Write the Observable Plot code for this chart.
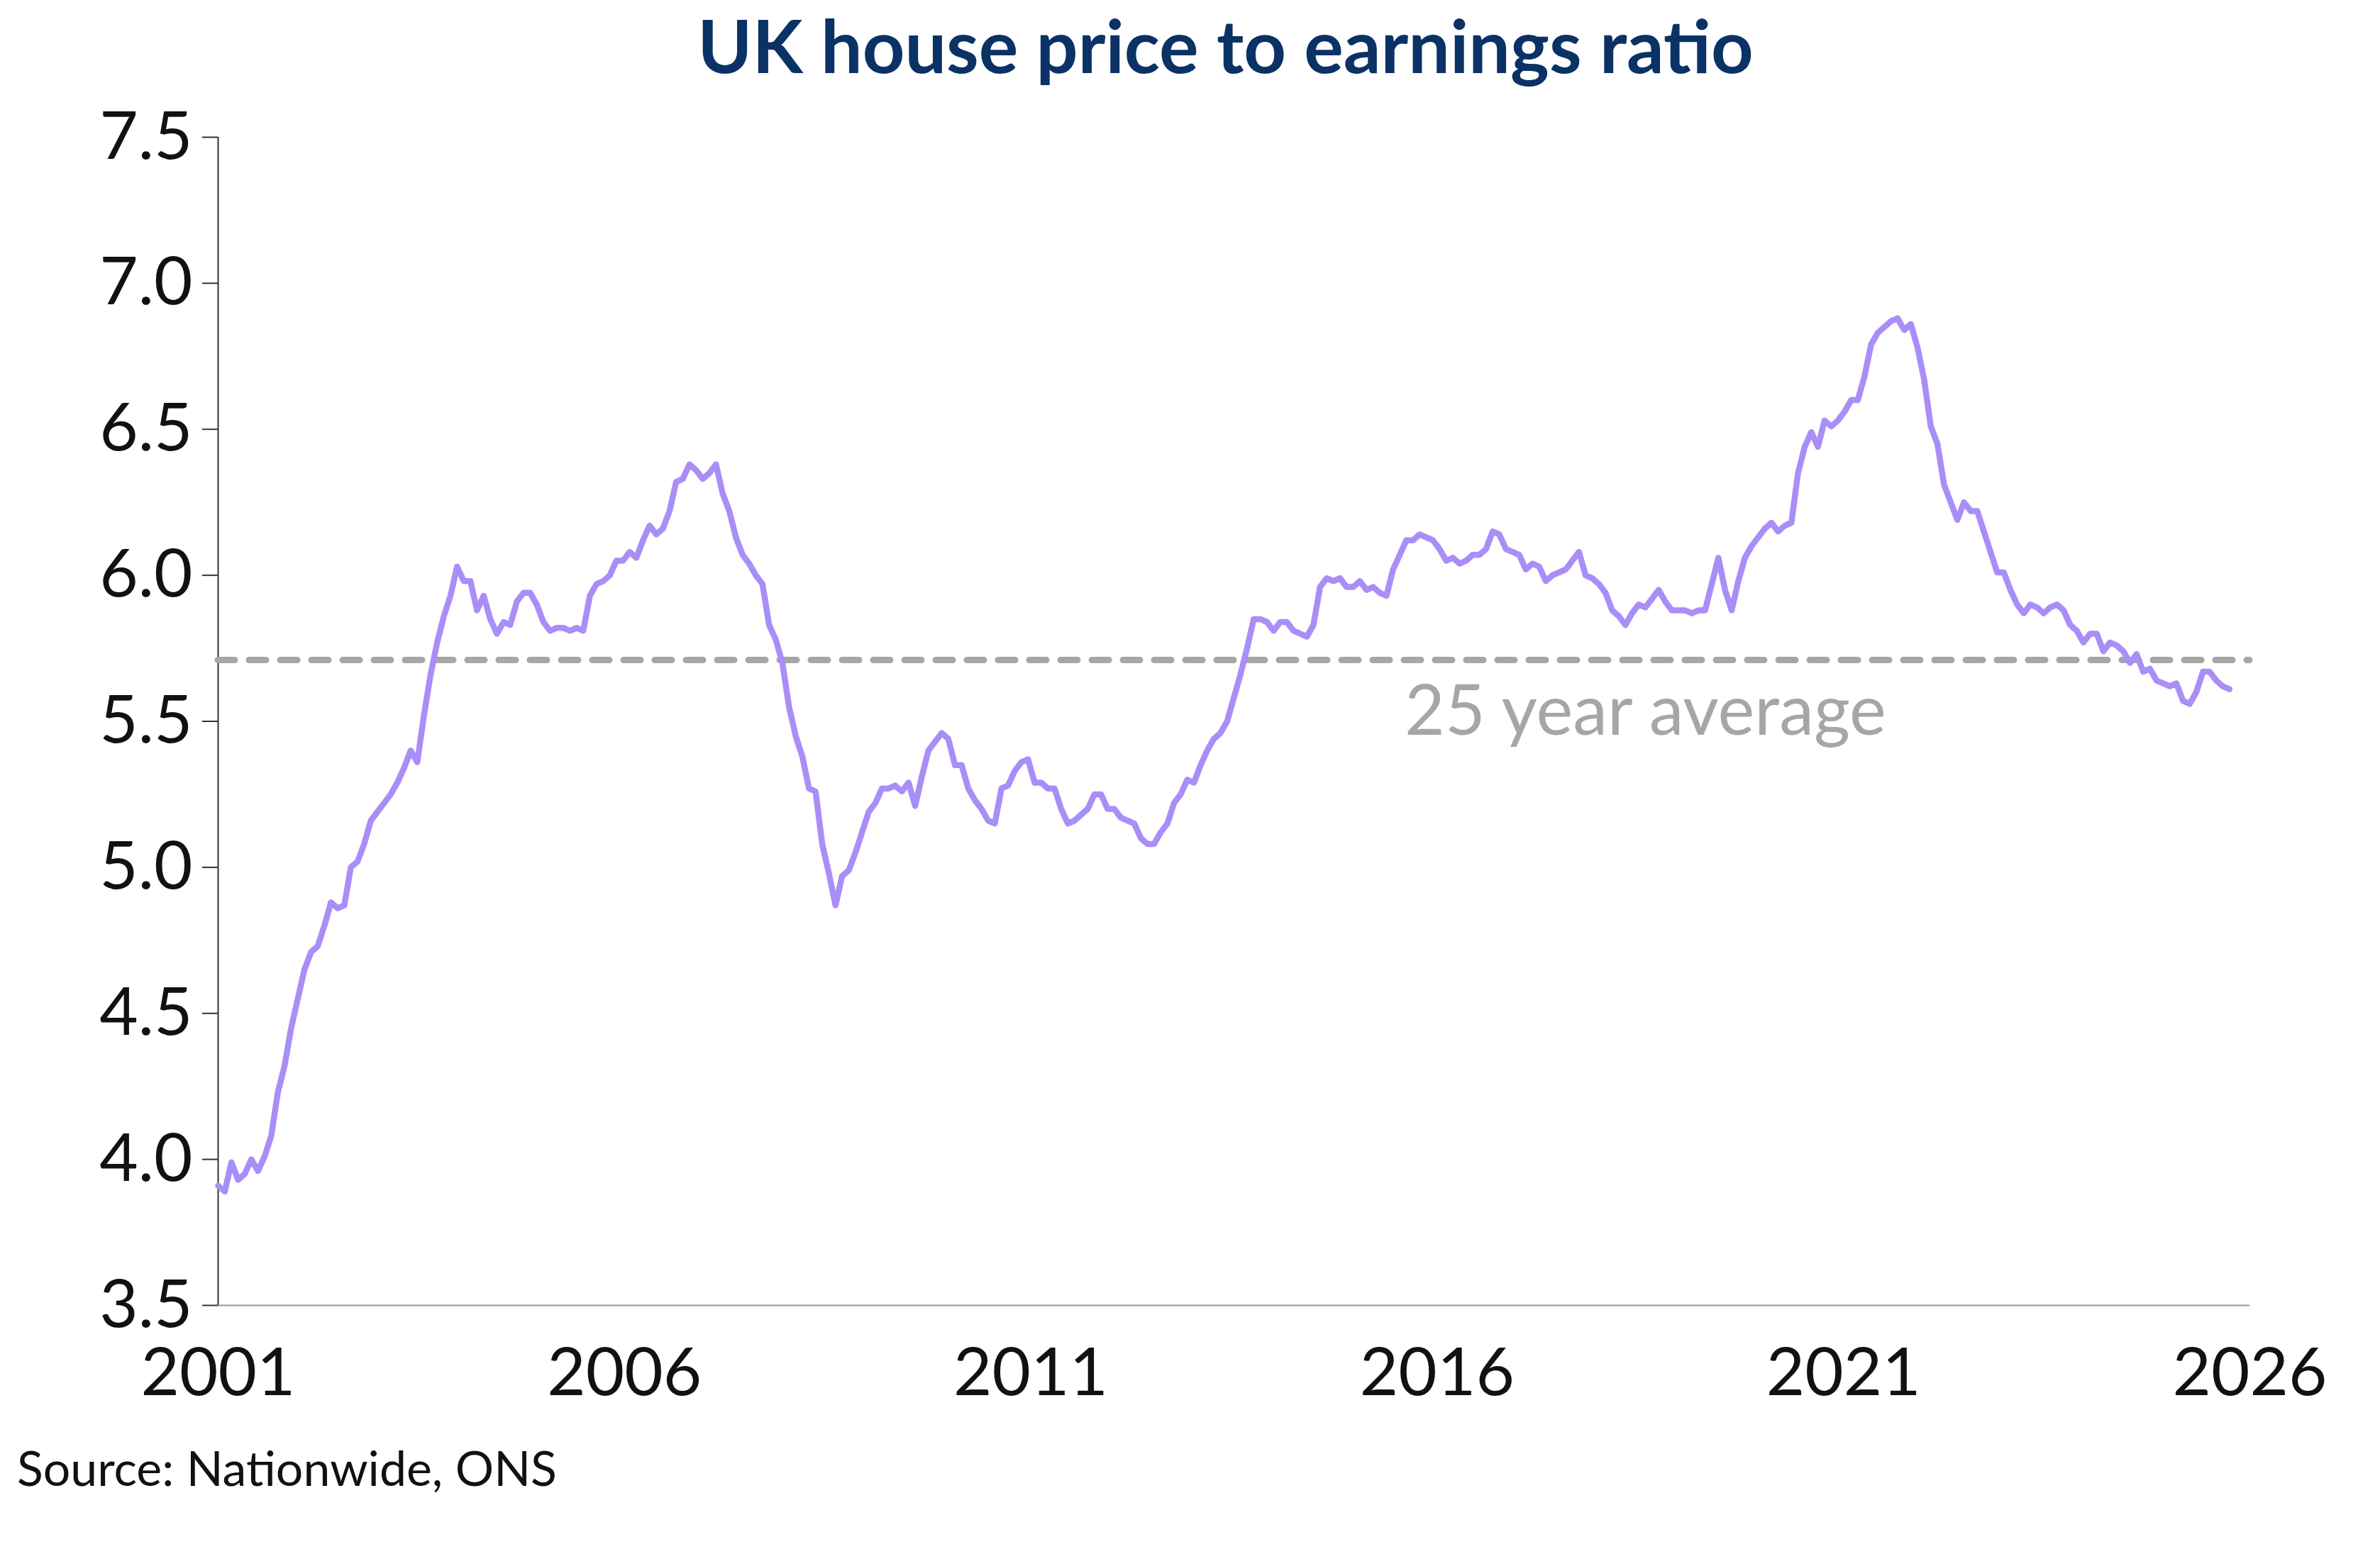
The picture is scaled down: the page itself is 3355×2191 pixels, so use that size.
<!DOCTYPE html>
<html><head><meta charset="utf-8">
<script src="https://cdn.jsdelivr.net/npm/d3@7"></script>
<script src="https://cdn.jsdelivr.net/npm/@observablehq/plot@0.6"></script>
<style>
body{margin:0;background:#fff;font-family:Lato,"Noto Sans",sans-serif;}
#title{height:120px;padding-top:4px;display:flex;align-items:center;justify-content:center;font-size:104px;font-weight:700;color:#0b3265;padding-left:100px;box-sizing:border-box;}
#src{font-size:68px;color:#111;margin-left:24px;margin-top:-10px;}
</style></head>
<body>
<div id="title">UK house price to earnings ratio</div>
<div id="chart"></div>
<div id="src">Source: Nationwide, ONS</div>
<script>
const startYear = 2001;
const endYear = 2025.75;
const ratio = [3.91,3.89,3.99,3.93,3.95,4.00,3.96,4.01,4.08,4.23,4.32,4.45,4.55,4.65,4.71,4.73,4.80,4.88,4.86,4.87,5.00,5.02,5.08,5.16,5.19,5.22,5.25,5.29,5.34,5.40,5.36,5.52,5.66,5.77,5.86,5.93,6.03,5.98,5.98,5.88,5.93,5.85,5.80,5.84,5.83,5.91,5.94,5.94,5.90,5.84,5.81,5.82,5.82,5.81,5.82,5.81,5.93,5.97,5.98,6.00,6.05,6.05,6.08,6.06,6.12,6.17,6.14,6.16,6.22,6.32,6.33,6.38,6.36,6.33,6.35,6.38,6.28,6.22,6.13,6.07,6.04,6.00,5.97,5.83,5.78,5.70,5.55,5.45,5.38,5.27,5.26,5.08,4.98,4.87,4.97,4.99,5.05,5.12,5.19,5.22,5.27,5.27,5.28,5.26,5.29,5.21,5.31,5.40,5.43,5.46,5.44,5.35,5.35,5.27,5.23,5.20,5.16,5.15,5.27,5.28,5.33,5.36,5.37,5.29,5.29,5.27,5.27,5.20,5.15,5.16,5.18,5.20,5.25,5.25,5.20,5.20,5.17,5.16,5.15,5.10,5.08,5.08,5.12,5.15,5.22,5.25,5.30,5.29,5.35,5.40,5.44,5.46,5.50,5.58,5.66,5.75,5.85,5.85,5.84,5.81,5.84,5.84,5.81,5.80,5.79,5.83,5.96,5.99,5.98,5.99,5.96,5.96,5.98,5.95,5.96,5.94,5.93,6.02,6.07,6.12,6.12,6.14,6.13,6.12,6.09,6.05,6.06,6.04,6.05,6.07,6.07,6.09,6.15,6.14,6.09,6.08,6.07,6.02,6.04,6.03,5.98,6.00,6.01,6.02,6.05,6.08,6.00,5.99,5.97,5.94,5.88,5.86,5.83,5.87,5.90,5.89,5.92,5.95,5.91,5.88,5.88,5.88,5.87,5.88,5.88,5.97,6.06,5.95,5.88,5.98,6.06,6.10,6.13,6.16,6.18,6.15,6.17,6.18,6.35,6.44,6.49,6.44,6.53,6.51,6.53,6.56,6.60,6.60,6.68,6.79,6.83,6.85,6.87,6.88,6.84,6.86,6.78,6.67,6.51,6.45,6.31,6.25,6.19,6.25,6.22,6.22,6.15,6.08,6.01,6.01,5.95,5.90,5.87,5.90,5.89,5.87,5.89,5.90,5.88,5.83,5.81,5.77,5.80,5.80,5.74,5.77,5.76,5.74,5.70,5.73,5.67,5.68,5.64,5.63,5.62,5.63,5.57,5.56,5.60,5.67,5.67,5.64,5.62,5.61];
const average = 5.71;
const avgLabel = "25 year average";
const yTicks = [3.5,4.0,4.5,5.0,5.5,6.0,6.5,7.0,7.5];
const xTicks = [2001,2006,2011,2016,2021,2026];

const step = (endYear - startYear) / (ratio.length - 1);
const data = ratio.map((v,i)=>({year:startYear + i*step, v}));

const chart = Plot.plot({
  width:3355, height:1918,
  marginTop:73, marginBottom:198, marginLeft:307, marginRight:184,
  style:{fontFamily:"Lato, 'Noto Sans', sans-serif", fontSize:"92px", color:"#111"},
  x:{domain:[2001,2026], label:null},
  y:{domain:[3.5,7.5], label:null},
  marks:[
    Plot.axisY({ticks:yTicks, tickFormat:d=>d.toFixed(1), tickSize:22, tickPadding:14, stroke:"#333", strokeWidth:2, fontSize:94, label:null}),
    Plot.axisX({ticks:xTicks, tickFormat:d=>String(d), tickSize:0, tickPadding:60, fontSize:94, label:null}),
    Plot.ruleX([2001],{stroke:"#333",strokeWidth:2}),
    Plot.ruleY([3.5],{stroke:"#999",strokeWidth:2}),
    Plot.ruleY([average],{stroke:"#a6a6a6",strokeWidth:9,strokeDasharray:"24,20",strokeLinecap:"round"}),
    Plot.line(data,{x:"year",y:"v",stroke:"#a98ef7",strokeWidth:8.5,strokeLinejoin:"round"}),
    Plot.text([avgLabel],{x:2015.6,y:5.53,text:d=>d,fill:"#a6a6a6",fontSize:98,textAnchor:"start"})
  ]
});
document.getElementById("chart").append(chart);
</script>
</body></html>
